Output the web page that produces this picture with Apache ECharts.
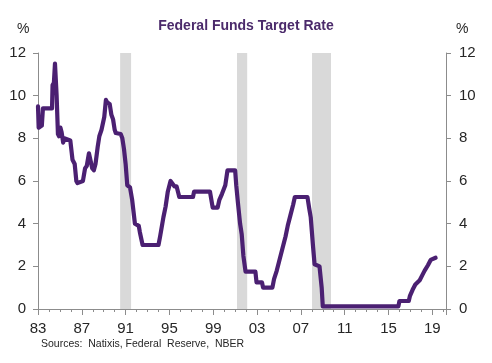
<!DOCTYPE html>
<html><head><meta charset="utf-8">
<script src="https://cdn.jsdelivr.net/npm/echarts@6/dist/echarts.min.js"></script>
<style>html,body{margin:0;padding:0;background:#fff}#c{width:492px;height:363px}</style>
</head><body><div id="c"></div>
<script>
const baseYear = 1983;
const xTickLabels = ['83','87','91','95','99','03','07','11','15','19'];
const yTicks = [0,2,4,6,8,10,12];
const recessionStart = [1990.5, 2001.17, 2008.02];
const recessionEnd = [1991.5, 2002.1, 2009.75];
const dates = [1983.00,1983.06,1983.35,1983.45,1984.28,1984.33,1984.45,1984.55,1984.62,1984.70,1984.82,1984.92,1985.05,1985.15,1985.30,1985.40,1985.95,1986.15,1986.35,1986.50,1986.60,1987.10,1987.30,1987.45,1987.65,1987.80,1987.95,1988.10,1988.25,1988.45,1988.60,1988.80,1989.05,1989.20,1989.30,1989.55,1989.70,1989.85,1990.00,1990.10,1990.55,1990.70,1990.85,1991.00,1991.15,1991.40,1991.60,1991.85,1992.20,1992.30,1992.55,1994.00,1994.15,1994.35,1994.45,1994.65,1994.85,1995.10,1995.25,1995.45,1995.65,1995.90,1997.15,1997.25,1998.70,1998.95,1999.40,1999.55,1999.80,2000.10,2000.30,2001.00,2001.10,2001.25,2001.45,2001.60,2001.75,2001.95,2002.85,2002.95,2003.45,2003.55,2004.40,2004.55,2004.80,2005.00,2005.30,2005.60,2005.80,2006.05,2006.30,2006.45,2007.60,2007.75,2007.90,2008.10,2008.25,2008.70,2008.80,2008.90,2009.00,2015.90,2016.00,2016.85,2016.95,2017.20,2017.45,2017.85,2018.10,2018.30,2018.60,2018.85,2019.30];
const rates = [9.5,8.5,8.6,9.4,9.4,10.5,10.6,11.5,11.5,10.0,8.2,8.1,8.5,8.3,7.8,8.0,7.9,7.0,6.8,6.0,5.9,6.0,6.6,6.7,7.3,7.3,6.6,6.5,6.8,7.6,8.1,8.4,9.0,9.8,9.7,9.6,9.1,8.9,8.4,8.25,8.2,8.0,7.5,6.8,5.8,5.7,5.1,4.0,3.9,3.6,3.0,3.0,3.4,4.0,4.3,4.8,5.5,6.0,6.0,5.75,5.75,5.25,5.25,5.5,5.5,4.75,4.75,5.1,5.4,5.8,6.5,6.5,5.8,5.0,4.0,3.5,2.5,1.75,1.75,1.25,1.25,1.0,1.0,1.4,1.8,2.2,2.8,3.4,3.9,4.4,4.9,5.25,5.25,4.75,4.3,3.0,2.1,2.0,1.5,1.0,0.125,0.125,0.375,0.375,0.6,0.9,1.15,1.35,1.6,1.8,2.05,2.3,2.4];

const lineData = dates.map((d,i)=>[d-baseYear, rates[i]]);
const areas = recessionStart.map((s,i)=>[{xAxis:s-baseYear},{xAxis:recessionEnd[i]-baseYear}]);
const font = 'Liberation Sans, Arial, sans-serif';
const txt = '#262626';
const axisCol = '#8c8c8c';

const yAxisBase = (pos, margin) => ({
  type:'value', position:pos, min:0, max:12, interval:2,
  axisLine:{show:true, lineStyle:{color:axisCol, width:1}},
  axisTick:{show:true, length:5, lineStyle:{color:axisCol}},
  splitLine:{show:false},
  axisLabel:{color:txt, fontSize:15, fontFamily:font, margin:margin,
    formatter:v=> yTicks.includes(v) ? String(v) : ''}
});

const chart = echarts.init(document.getElementById('c'), null, {renderer:'canvas'});
chart.setOption({
  animation:false,
  backgroundColor:'#fff',
  title:{text:'Federal Funds Target Rate', left:241, top:14, textAlign:'center',
    textStyle:{color:'#4b2a6b', fontSize:14, fontWeight:'bold', fontFamily:font}},
  grid:{left:38, right:46, top:53, bottom:54, containLabel:false},
  xAxis:{type:'value', min:0, max:37.25, interval:4,
    axisLine:{show:true, onZero:false, lineStyle:{color:axisCol, width:1}},
    axisTick:{show:true, length:6, lineStyle:{color:axisCol}},
    minorTick:{show:true, splitNumber:4, length:3, lineStyle:{color:axisCol}},
    splitLine:{show:false},
    axisLabel:{color:txt, fontSize:15, fontFamily:font, margin:12, showMaxLabel:false,
      formatter:v=>{const i=Math.round(v/4); return (Math.abs(v-i*4)<1e-6 && xTickLabels[i]) ? xTickLabels[i] : '';}}
  },
  yAxis:[yAxisBase('left',12), yAxisBase('right',13)],
  graphic:[
    {type:'text', left:17, top:22, style:{text:'%', fill:txt, font:'14px '+font}},
    {type:'text', left:456, top:22, style:{text:'%', fill:txt, font:'14px '+font}},
    {type:'text', left:41, top:339, style:{text:'Sources:  Natixis, Federal  Reserve,  NBER', fill:txt, font:'10.5px '+font}}
  ],
  series:[
    {type:'line', yAxisIndex:0, data:lineData, showSymbol:false, symbol:'none',
      lineStyle:{color:'#4b2072', width:4.2, join:'round', cap:'round'},
      z:3,
      markArea:{silent:true, itemStyle:{color:'#d9d9d9'}, data:areas, z:1}
    }
  ]
});
</script></body></html>
